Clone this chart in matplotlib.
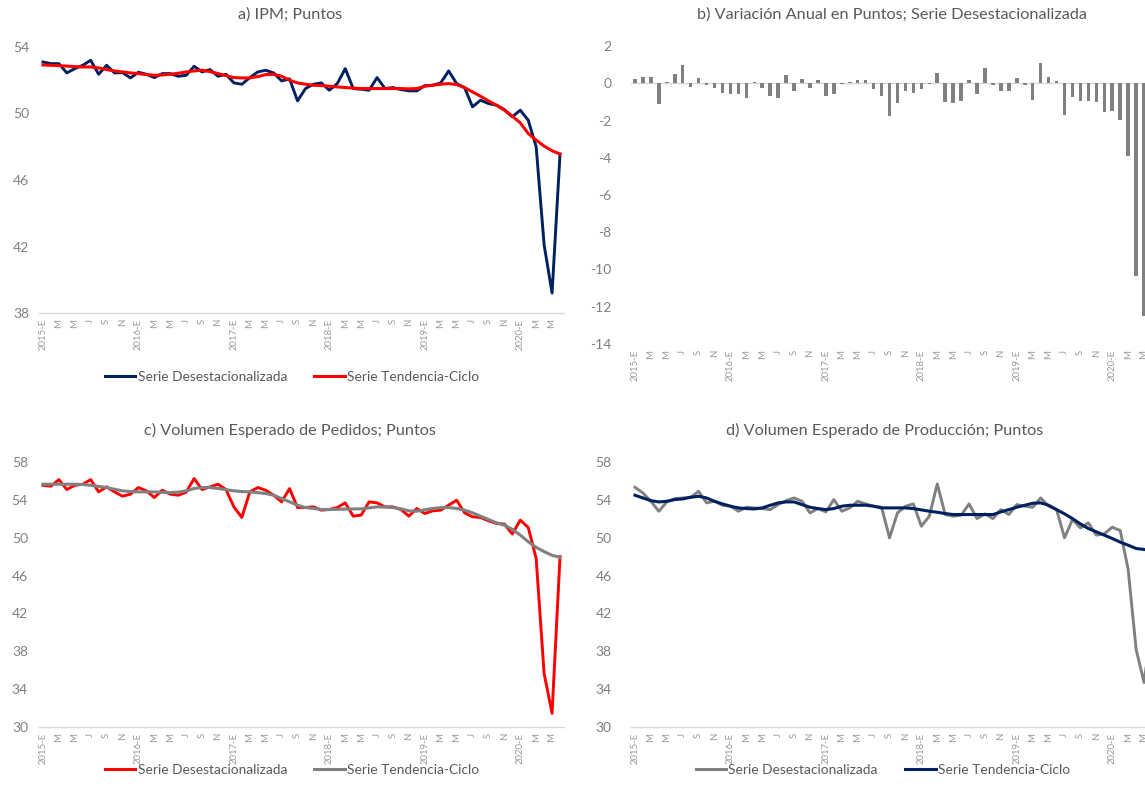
import matplotlib
matplotlib.use('Agg')
import matplotlib.pyplot as plt
from matplotlib.lines import Line2D

plt.rcParams['font.family'] = ['Lato', 'DejaVu Sans']

W, H = 1145, 796

# etiquetas del eje x (un mes si, uno no; ene-2015 a may-2020)
etiquetas_x = ['2015-E', 'M', 'M', 'J', 'S', 'N',
               '2016-E', 'M', 'M', 'J', 'S', 'N',
               '2017-E', 'M', 'M', 'J', 'S', 'N',
               '2018-E', 'M', 'M', 'J', 'S', 'N',
               '2019-E', 'M', 'M', 'J', 'S', 'N',
               '2020-E', 'M', 'M']

# a) IPM
ipm_desest = [53.1, 53.0, 53.0, 52.44, 52.7, 52.9, 53.2, 52.36, 52.9, 52.44, 52.46, 52.14,
              52.48, 52.36, 52.16, 52.4, 52.4, 52.24, 52.3, 52.84, 52.5, 52.64, 52.24, 52.36,
              51.84, 51.76, 52.16, 52.5, 52.6, 52.44, 51.96, 52.08, 50.76, 51.5, 51.76, 51.84,
              51.4, 51.8, 52.7, 51.5, 51.46, 51.4, 52.16, 51.5, 51.56, 51.44, 51.36, 51.36,
              51.68, 51.7, 51.84, 52.56, 51.8, 51.56, 50.4, 50.8, 50.6, 50.5, 50.24, 49.8,
              50.2, 49.6, 48.0, 42.1, 39.2, 47.56]
ipm_tend = [52.92, 52.9, 52.88, 52.85, 52.82, 52.8, 52.8, 52.74, 52.64, 52.56, 52.5, 52.44,
            52.4, 52.34, 52.3, 52.32, 52.36, 52.42, 52.5, 52.56, 52.6, 52.52, 52.4, 52.28,
            52.16, 52.14, 52.14, 52.22, 52.34, 52.36, 52.24, 52.0, 51.84, 51.76, 51.7, 51.68,
            51.64, 51.6, 51.56, 51.53, 51.5, 51.5, 51.5, 51.5, 51.5, 51.5, 51.48, 51.5,
            51.64, 51.7, 51.76, 51.8, 51.74, 51.56, 51.3, 51.04, 50.76, 50.5, 50.2, 49.84,
            49.44, 48.8, 48.4, 48.04, 47.76, 47.56]

# b) variacion anual
var_anual = [0.23, 0.36, 0.36, -1.12, 0.09, 0.5, 1.0, -0.22, 0.3, -0.09, -0.27, -0.5,
             -0.58, -0.58, -0.81, 0.05, -0.27, -0.68, -0.81, 0.45, -0.4, 0.23, -0.27, 0.18,
             -0.68, -0.58, -0.04, 0.05, 0.18, 0.18, -0.32, -0.68, -1.75, -1.06, -0.4, -0.5,
             -0.32, -0.04, 0.54, -1.0, -1.08, -0.95, 0.18, -0.59, 0.81, -0.09, -0.39, -0.39,
             0.27, -0.09, -0.9, 1.11, 0.32, 0.14, -1.68, -0.72, -0.95, -0.95, -1.02, -1.56,
             -1.5, -1.97, -3.89, -10.35, -12.5]

# c) pedidos
ped_desest = [55.54, 55.44, 56.14, 55.09, 55.54, 55.65, 56.14, 54.84, 55.37, 54.84, 54.39, 54.6,
              55.3, 54.95, 54.25, 55.02, 54.6, 54.49, 54.81, 56.25, 55.09, 55.37, 55.65, 55.09,
              53.26, 52.14, 54.84, 55.3, 55.02, 54.49, 53.79, 55.19, 53.19, 53.19, 53.26, 52.91,
              52.98, 53.19, 53.68, 52.28, 52.39, 53.79, 53.68, 53.26, 53.26, 52.98, 52.28, 53.09,
              52.56, 52.84, 52.91, 53.44, 53.96, 52.63, 52.21, 52.14, 51.79, 51.51, 51.44, 50.39,
              51.86, 51.09, 47.82, 35.65, 31.44, 48.0]
ped_tend = [55.65, 55.65, 55.65, 55.65, 55.65, 55.62, 55.54, 55.42, 55.3, 55.12, 54.95, 54.88,
            54.84, 54.84, 54.84, 54.8, 54.77, 54.82, 54.95, 55.2, 55.3, 55.3, 55.2, 55.08,
            54.95, 54.88, 54.84, 54.76, 54.67, 54.49, 54.14, 53.79, 53.44, 53.19, 53.09, 52.98,
            52.98, 53.0, 53.02, 53.04, 53.05, 53.15, 53.26, 53.24, 53.19, 53.05, 52.84, 52.8,
            52.95, 53.09, 53.18, 53.18, 53.09, 52.91, 52.63, 52.28, 51.93, 51.58, 51.33, 50.88,
            50.28, 49.58, 48.98, 48.53, 48.14, 47.93]

# d) produccion
prod_desest = [55.33, 54.73, 53.85, 52.8, 53.78, 54.13, 54.2, 54.27, 54.9, 53.68, 53.85, 53.43,
               53.33, 52.8, 53.22, 53.15, 53.08, 52.97, 53.5, 53.92, 54.2, 53.85, 52.62, 53.08,
               52.73, 54.03, 52.8, 53.15, 53.85, 53.57, 53.33, 53.22, 49.99, 52.62, 53.33, 53.57,
               51.22, 52.27, 55.68, 52.45, 52.27, 52.38, 53.57, 52.02, 52.52, 52.02, 52.97, 52.45,
               53.5, 53.33, 53.22, 54.2, 53.33, 52.97, 49.99, 51.92, 51.04, 51.57, 50.27, 50.41,
               51.11, 50.76, 46.65, 38.21, 34.7, 41.0]
prod_tend = [54.49, 54.2, 53.92, 53.78, 53.85, 54.03, 54.1, 54.27, 54.38, 54.2, 53.85, 53.57,
             53.33, 53.15, 53.08, 53.04, 53.15, 53.43, 53.68, 53.78, 53.78, 53.5, 53.22, 53.08,
             52.97, 53.08, 53.33, 53.43, 53.43, 53.43, 53.33, 53.15, 53.15, 53.15, 53.15, 53.08,
             52.94, 52.8, 52.69, 52.55, 52.45, 52.45, 52.45, 52.45, 52.45, 52.45, 52.73, 52.97,
             53.22, 53.43, 53.64, 53.68, 53.43, 52.97, 52.52, 52.02, 51.46, 50.97, 50.62, 50.27,
             49.92, 49.53, 49.21, 48.86, 48.76, 48.6]

AZUL = '#002060'
ROJO = '#ff0000'
GRIS = '#808080'
EJE = '#d9d9d9'
TXT = '#595959'


def caja(x0, y0, x1, y1):
    return [x0 / W, 1 - y1 / H, (x1 - x0) / W, (y1 - y0) / H]


def preparar(ax, ylim, yticks, pad_y):
    ax.set_xlim(-0.5, 65.5)
    ax.set_ylim(*ylim)
    ax.set_yticks(yticks)
    ax.set_yticklabels([str(t) for t in yticks])
    ax.set_xticks(range(0, 66, 2))
    ax.set_xticklabels(etiquetas_x, rotation=90, fontsize=6.9, color='#999999')
    ax.tick_params(axis='x', length=0, pad=4)
    ax.tick_params(axis='y', length=0, pad=pad_y, labelsize=10, labelcolor=GRIS)
    for s in ['top', 'right', 'left']:
        ax.spines[s].set_visible(False)
    ax.spines['bottom'].set_color(EJE)
    ax.spines['bottom'].set_linewidth(1)


def leyenda(ax, colores, cx, cy):
    hs = [Line2D([], [], color=c, lw=2.2) for c in colores]
    ax.legend(hs, ['Serie Desestacionalizada', 'Serie Tendencia-Ciclo'], loc='center',
              bbox_to_anchor=(cx / W, 1 - cy / H), bbox_transform=fig.transFigure,
              ncol=2, frameon=False, handlelength=2.2, handletextpad=0.2,
              columnspacing=2.0, prop={'size': 9.9}, labelcolor=TXT)


fig = plt.figure(figsize=(W / 100, H / 100), dpi=100)
x = list(range(66))

# a)
ax = fig.add_axes(caja(39, 47, 564, 313))
preparar(ax, (38, 54), [38, 42, 46, 50, 54], 7)
ax.plot(x, ipm_desest, color=AZUL, lw=2.1)
ax.plot(x, ipm_tend, color=ROJO, lw=2.2)
leyenda(ax, [AZUL, ROJO], 292, 377)
fig.text(290 / W, 1 - 15 / H, 'a) IPM; Puntos', ha='center', va='center', fontsize=11.7, color=TXT)

# b)
ax = fig.add_axes(caja(631, 46, 1156, 344))
preparar(ax, (-14, 2), list(range(-14, 3, 2)), 14)
ax.spines['bottom'].set_visible(False)
ax.axhline(0, color=EJE, lw=1, zorder=1)
ax.bar(range(len(var_anual)), var_anual, width=0.45, color=GRIS, zorder=2)
fig.text(892 / W, 1 - 15 / H, 'b) Variación Anual en Puntos; Serie Desestacionalizada',
         ha='center', va='center', fontsize=11.7, color=TXT)

# c)
ax = fig.add_axes(caja(39, 462, 564, 727))
preparar(ax, (30, 58), list(range(30, 59, 4)), 8)
ax.plot(x, ped_desest, color=ROJO, lw=2.1)
ax.plot(x, ped_tend, color=GRIS, lw=2.2)
leyenda(ax, [ROJO, GRIS], 292, 770)
fig.text(290 / W, 1 - 430 / H, 'c) Volumen Esperado de Pedidos; Puntos',
         ha='center', va='center', fontsize=11.7, color=TXT)

# d)
ax = fig.add_axes(caja(631, 462, 1156, 727))
preparar(ax, (30, 58), list(range(30, 59, 4)), 14)
ax.plot(x, prod_desest, color=GRIS, lw=2.1)
ax.plot(x, prod_tend, color=AZUL, lw=2.2)
leyenda(ax, [GRIS, AZUL], 883, 770)
fig.text(885 / W, 1 - 430 / H, 'd) Volumen Esperado de Producción; Puntos',
         ha='center', va='center', fontsize=11.7, color=TXT)

fig.savefig('out.png', dpi=100)
